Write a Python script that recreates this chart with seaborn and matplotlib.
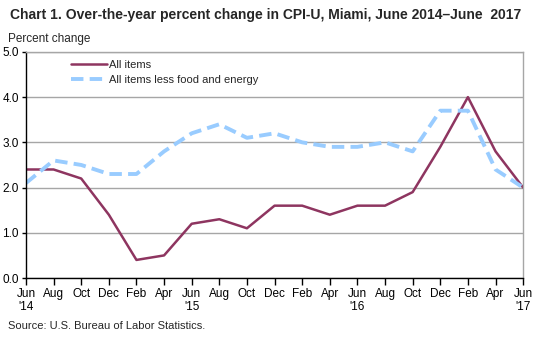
import matplotlib
matplotlib.use("Agg")
import matplotlib.pyplot as plt
import seaborn as sns
import pandas as pd

months = ["Jun\n'14", "Aug", "Oct", "Dec", "Feb", "Apr",
          "Jun\n'15", "Aug", "Oct", "Dec", "Feb", "Apr",
          "Jun\n'16", "Aug", "Oct", "Dec", "Feb", "Apr", "Jun\n'17"]
all_items = [2.4, 2.4, 2.2, 1.4, 0.4, 0.5, 1.2, 1.3, 1.1, 1.6,
             1.6, 1.4, 1.6, 1.6, 1.9, 2.9, 4.0, 2.8, 2.0]
core_items = [2.1, 2.6, 2.5, 2.3, 2.3, 2.8, 3.2, 3.4, 3.1, 3.2,
              3.0, 2.9, 2.9, 3.0, 2.8, 3.7, 3.7, 2.4, 2.0]
y_ticks = [0.0, 1.0, 2.0, 3.0, 4.0, 5.0]

sns.set_theme(style="white")
plt.rcParams["font.family"] = ["Liberation Sans", "DejaVu Sans"]

df = pd.DataFrame({"idx": list(range(len(months))),
                   "All items": all_items,
                   "All items less food and energy": core_items})

fig = plt.figure(figsize=(5.41, 3.37), dpi=100)
ax = fig.add_axes([0.048, 0.175, 0.919, 0.671])

sns.lineplot(data=df, x="idx", y="All items", ax=ax, color="#8E3560",
             linewidth=1.8, label="All items")
sns.lineplot(data=df, x="idx", y="All items less food and energy", ax=ax,
             color="#99CCFF", linewidth=2.8, label="All items less food and energy",
             dashes=False)
ax.lines[1].set_dashes([3.2, 1.6])

ax.set_xlim(0, len(months) - 1)
ax.set_ylim(0, 5)
ax.set_yticks(y_ticks)
ax.set_yticklabels([f"{v:.1f}" for v in y_ticks], fontsize=8.5, color="#000000")
ax.set_xticks(range(len(months)))
ax.set_xticklabels(months, fontsize=8.5, color="#000000", linespacing=1.15)
ax.set_xlabel("")
ax.set_ylabel("")

ax.grid(axis="y", color="#A6A6A6", linewidth=1)
ax.grid(axis="x", visible=False)
for side in ["top", "right"]:
    ax.spines[side].set_color("#A6A6A6")
    ax.spines[side].set_linewidth(1)
for side in ["left", "bottom"]:
    ax.spines[side].set_color("#000000")
    ax.spines[side].set_linewidth(1)
ax.tick_params(axis="x", bottom=True, direction="out", length=5, width=1,
               color="#000000", pad=2)
ax.tick_params(axis="y", left=True, direction="out", length=3, width=1,
               color="#000000", pad=2)

leg = ax.legend(loc="upper left", bbox_to_anchor=(0.075, 1.0), frameon=False,
                fontsize=8, handlelength=3.2, handletextpad=0.25,
                labelspacing=0.5, borderaxespad=0.3)

fig.text(0.018, 0.955, "Chart 1. Over-the-year percent change in CPI-U, Miami, June 2014\u2013June  2017",
         fontsize=10, fontweight="bold", ha="left", va="center")
fig.text(0.015, 0.885, "Percent change", fontsize=8.5, ha="left", va="center")
fig.text(0.015, 0.034, "Source: U.S. Bureau of Labor Statistics.", fontsize=8,
         ha="left", va="center")

fig.savefig("out.png", dpi=100)
